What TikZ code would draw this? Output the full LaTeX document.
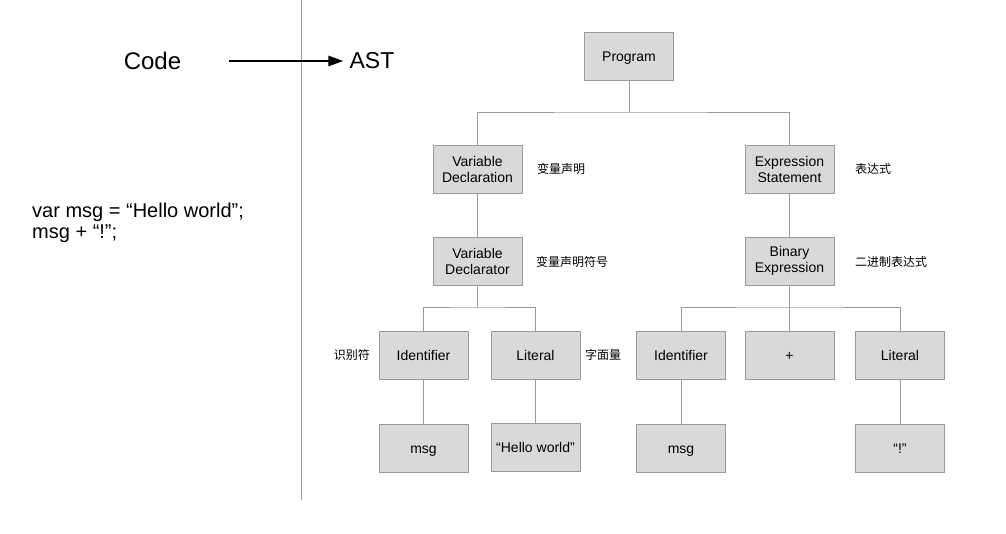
\documentclass[tikz,border=0pt]{standalone}
\usepackage{fontspec}
\setmainfont{Liberation Sans}
\newfontfamily\cjk{Noto Sans CJK SC}
\usepackage{xcolor}
\usetikzlibrary{positioning, arrows.meta}
\definecolor{boxfill}{HTML}{D9D9D9}
\definecolor{boxline}{HTML}{9A9A9A}
\tikzset{
    astbox/.style={draw=boxline, fill=boxfill, line width=0.9pt, minimum width=89pt, minimum height=48pt, align=center, font=\fontsize{14}{16}\selectfont},
    oneline/.style={astbox, text height=12pt, text depth=2pt},
    conn/.style={draw=boxline, line width=0.9pt},
    note/.style={font=\cjk\fontsize{12}{14}\selectfont, inner sep=0pt}
}

\begin{document}
\begin{tikzpicture}[x=1pt, y=-1pt]
    \useasboundingbox (0,0) rectangle (1006,533);

    % Separator
    \draw[boxline, line width=0.9pt] (301,0) -- (301,500);

    % Code -> AST
    \node[inner sep=0pt, font=\fontsize{24}{26}\selectfont] (code) at (152.5,61) {Code};
    \node[inner sep=0pt, font=\fontsize{23}{26}\selectfont] (ast) at (372,61) {AST};
    \draw[line width=2.5pt, -{Triangle[length=15pt, width=10pt]}, shorten <=48pt, shorten >=6pt] (code.east) -- (ast.west);

    % Source
    \node[inner sep=0pt, anchor=west, align=left, font=\fontsize{20}{21}\selectfont] (src) at (32,223) {var msg = “Hello world”;\\msg + “!”;};

    % Tree nodes
    \node[oneline] (prog) at (629,56) {Program};
    \node[astbox] (vardecl) at (477.5,169) {Variable\\Declaration};
    \node[astbox] (exprstmt) at (789.5,169) {Expression\\Statement};
    \node[astbox] (vardtor) at (477.5,261) {Variable\\Declarator};
    \node[astbox] (binexpr) at (789.5,261) {Binary\\Expression};
    \node[oneline] (idL) at (423.5,355.5) {Identifier};
    \node[oneline] (litL) at (535.5,355.5) {Literal};
    \node[oneline] (idR) at (681,355.5) {Identifier};
    \node[oneline] (plus) at (789.5,355.5) {+};
    \node[oneline] (litR) at (900,355.5) {Literal};
    \node[oneline] (msgL) at (423.5,448.5) {msg};
    \node[oneline] (hello) at (535.5,447.5) {“Hello world”};
    \node[oneline] (msgR) at (681,448.5) {msg};
    \node[oneline] (bang) at (900,448.5) {“!”};

    % Junctions
    \coordinate (j1) at (629,112);
    \coordinate (j2) at (477.5,307);
    \coordinate (j3) at (789.5,307);

    % Connectors
    \draw[conn] (prog.south) -- (j1);
    \draw[conn] (vardecl.north) |- (j1) -| (exprstmt.north);
    \draw[conn] (vardecl.south) -- (vardtor.north);
    \draw[conn] (exprstmt.south) -- (binexpr.north);
    \draw[conn] (vardtor.south) -- (j2);
    \draw[conn] (idL.north) |- (j2) -| (litL.north);
    \draw[conn] (binexpr.south) -- (plus.north);
    \draw[conn] (idR.north) |- (j3) -| (litR.north);
    \draw[conn] (idL.south) -- (msgL.north);
    \draw[conn] (litL.south) -- (hello.north);
    \draw[conn] (idR.south) -- (msgR.north);
    \draw[conn] (litR.south) -- (bang.north);

    % Notes
    \node[note, anchor=west] (n1) at (537,169) {变量声明};
    \node[note, anchor=west] (n2) at (536,262) {变量声明符号};
    \node[note, anchor=west] (n3) at (855,169) {表达式};
    \node[note, anchor=west] (n4) at (855,262) {二进制表达式};
    \node[note, anchor=east] (n5) at (370,355) {识别符};
    \node[note, anchor=west] (n6) at (585,355) {字面量};
\end{tikzpicture}
\end{document}
